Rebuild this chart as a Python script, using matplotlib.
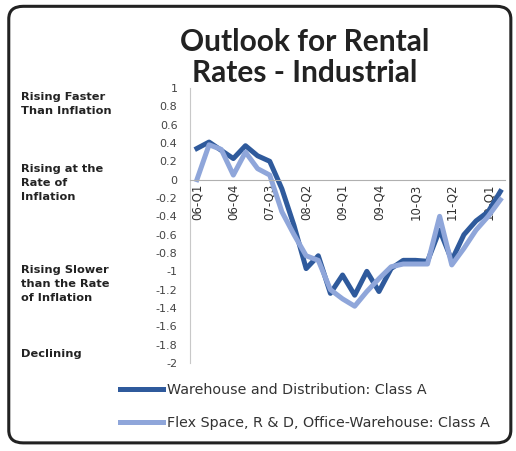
import numpy as np
import matplotlib.pyplot as plt
from matplotlib.patches import FancyBboxPatch

# quarterly survey scores, 06-Q1 .. 12-Q2
quarters = ['06-Q1', '06-Q2', '06-Q3', '06-Q4', '07-Q1', '07-Q2', '07-Q3', '07-Q4',
            '08-Q1', '08-Q2', '08-Q3', '08-Q4', '09-Q1', '09-Q2', '09-Q3', '09-Q4',
            '10-Q1', '10-Q2', '10-Q3', '10-Q4', '11-Q1', '11-Q2', '11-Q3', '11-Q4',
            '12-Q1', '12-Q2']
warehouse = [0.34, 0.41, 0.32, 0.23, 0.37, 0.26, 0.2, -0.1, -0.5, -0.97, -0.83, -1.24,
             -1.04, -1.26, -1.0, -1.22, -0.97, -0.88, -0.88, -0.89, -0.55, -0.88, -0.6,
             -0.45, -0.35, -0.13]
flex = [0.0, 0.38, 0.33, 0.05, 0.3, 0.12, 0.05, -0.35, -0.6, -0.83, -0.88, -1.2,
        -1.3, -1.38, -1.22, -1.08, -0.95, -0.92, -0.92, -0.92, -0.4, -0.93, -0.75,
        -0.55, -0.4, -0.22]
series_names = ['Warehouse and Distribution: Class A',
                'Flex Space, R & D, Office-Warehouse: Class A']
yticks = [1, 0.8, 0.6, 0.4, 0.2, 0, -0.2, -0.4, -0.6, -0.8, -1, -1.2, -1.4, -1.6, -1.8, -2]
bands = ['Rising Faster\nThan Inflation', 'Rising at the\nRate of\nInflation',
         'Rising Slower\nthan the Rate\nof Inflation', 'Declining']

plt.rcParams['font.family'] = ['DejaVu Sans']

fig = plt.figure(figsize=(5.16, 4.51), dpi=100)
fig.patch.set_facecolor('white')

# rounded frame around the chart
frame = FancyBboxPatch((0.017, 0.018), 0.973, 0.968, boxstyle='round,pad=0,rounding_size=0.028',
                       transform=fig.transFigure, fill=False, edgecolor='#222222',
                       linewidth=2.2)
fig.patches.append(frame)

fig.text(0.59, 0.872, 'Outlook for Rental\nRates - Industrial', ha='center', va='center',
         fontsize=21.5, fontweight='bold', color='#222222', linespacing=1.12,
         family=['Lato', 'DejaVu Sans'])

ax = fig.add_axes([0.368, 0.195, 0.611, 0.61])
x = np.arange(len(quarters))
ax.plot(x, warehouse, color='#2f5a9c', lw=3.6, label=series_names[0])
ax.plot(x, flex, color='#8fa6da', lw=3.6, label=series_names[1])

ax.set_ylim(-2, 1)
ax.set_xlim(-0.58, len(quarters) - 0.6)
ax.spines['bottom'].set_position(('data', 0))
for side in ['top', 'right']:
    ax.spines[side].set_visible(False)
ax.spines['bottom'].set_color('#b0b0b0')
ax.spines['left'].set_color('#c8c8c8')

ax.set_yticks(yticks)
ax.set_yticklabels([f'{v:g}' for v in yticks], fontsize=8, color='#444444')
ax.set_xticks(x[::3])
ax.set_xticklabels(quarters[::3], rotation=90, fontsize=8.5, color='#333333')
ax.tick_params(axis='y', length=0, pad=9)
ax.tick_params(axis='x', length=0, pad=3)

# descriptive labels to the left of the value axis
band_y = [0.77, 0.594, 0.37, 0.215]
for text, yy in zip(bands, band_y):
    fig.text(0.04, yy, text, ha='left', va='center', fontsize=8.2, fontweight='bold',
             color='#222222', linespacing=1.5)

fig.legend(loc='center left', bbox_to_anchor=(0.233, 0.099), frameon=False, fontsize=10.3,
           handlelength=3.0, labelspacing=1.3, handletextpad=0.25, borderaxespad=0,
           borderpad=0, labelcolor='#333333')

fig.savefig('out.png', dpi=100)
